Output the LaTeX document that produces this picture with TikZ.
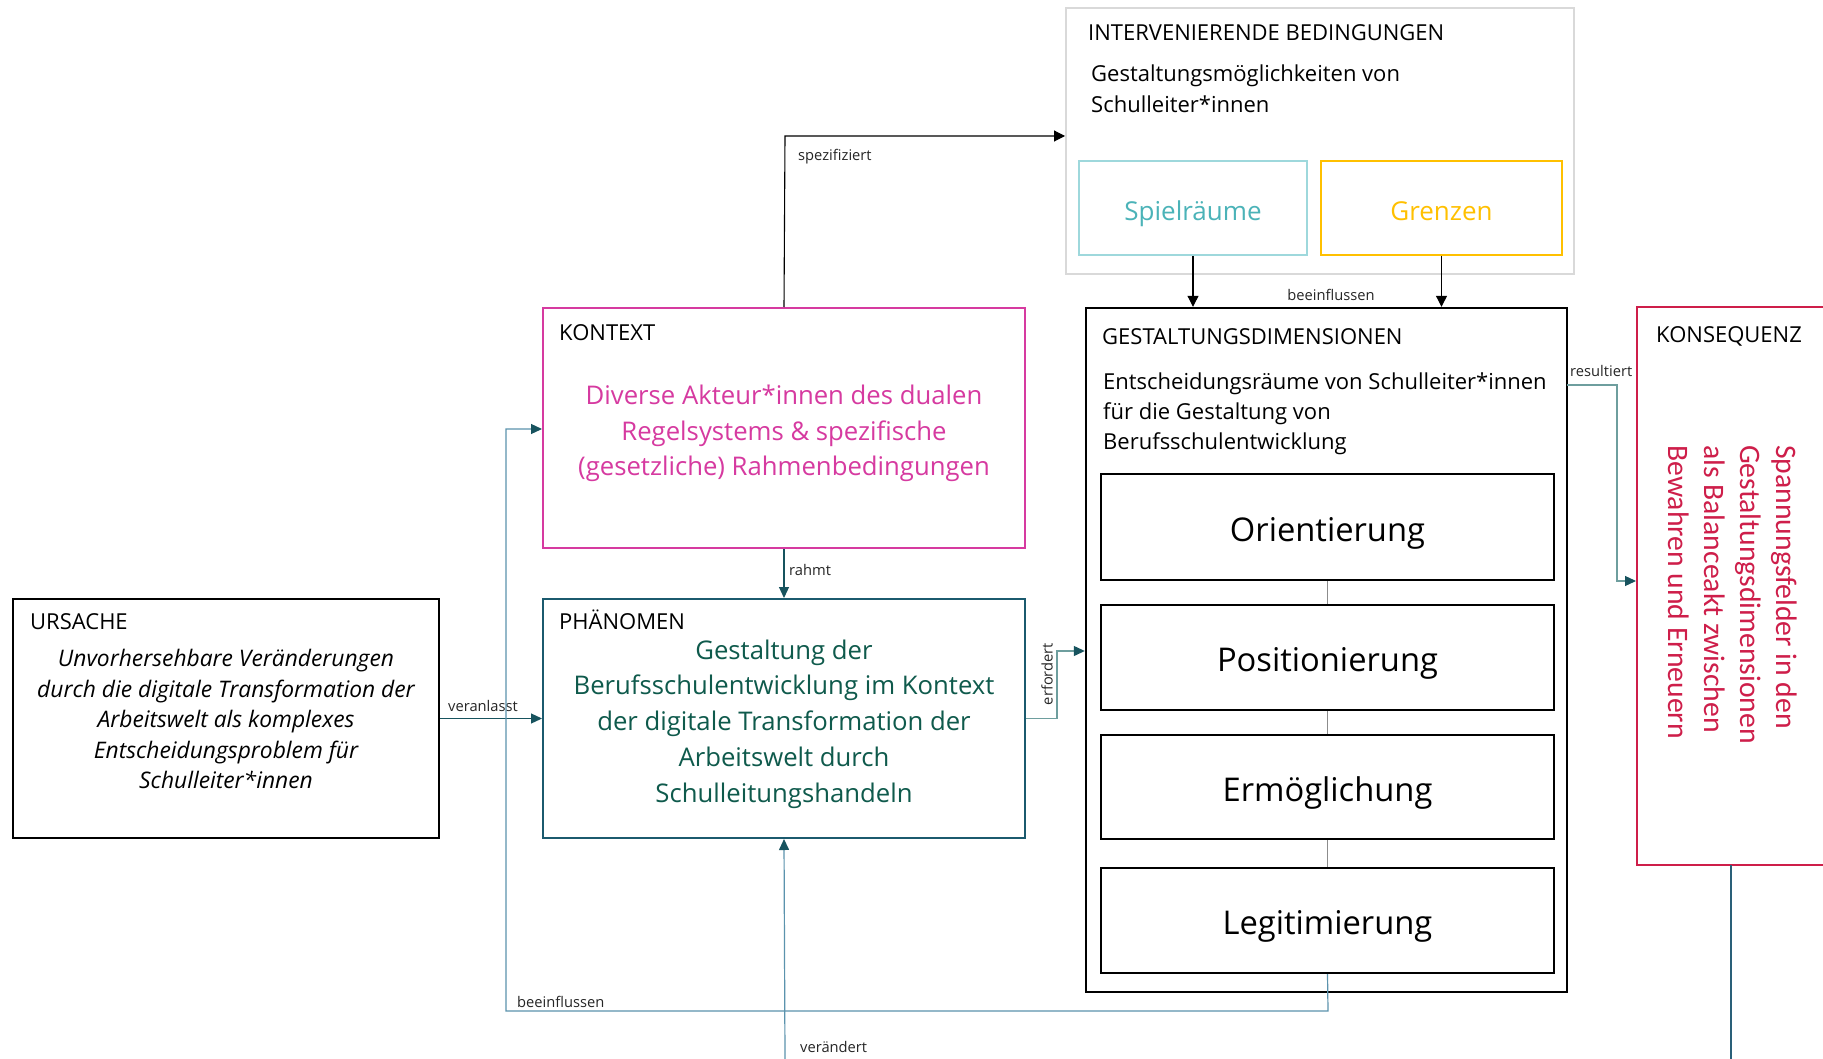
\documentclass[tikz,border=0pt]{standalone}
\usepackage{fontspec}
\setmainfont{Open Sans}
\newfontfamily\calfont{Carlito}
\usetikzlibrary{arrows.meta}

\definecolor{kontextmag}{HTML}{D63AA0}
\definecolor{phaenline}{HTML}{1B5A6E}
\definecolor{phaentext}{HTML}{0F5A4C}
\definecolor{spielline}{HTML}{9ED8DC}
\definecolor{spieltext}{HTML}{4BB3B8}
\definecolor{grenzgold}{HTML}{FFC000}
\definecolor{konsred}{HTML}{CE1E4A}
\definecolor{framegray}{HTML}{D9D9D9}
\definecolor{darkteal}{HTML}{17535E}
\definecolor{lightteal}{HTML}{5B93AD}
\definecolor{midteal}{HTML}{6E9E9E}
\definecolor{dimgray}{HTML}{8C8C8C}
\definecolor{konsline}{HTML}{2A6079}

\newcommand{\fs}[2]{\fontsize{#1}{#2}\selectfont}

\begin{document}
\begin{tikzpicture}[x=1pt,y=-1pt,
  box/.style={draw, line width=2pt, inner sep=0pt, fill=none},
  title/.style={anchor=base west, inner sep=0pt, font=\fs{22}{26}},
  lbl/.style={inner sep=0pt, font=\fs{14.7}{17}, text=black!85},
  blackarrow/.style={draw=black, line width=1.1pt, -{Triangle[length=11pt,width=11pt]}},
  tealarrow/.style={draw=darkteal, line width=1.2pt, -{Triangle[length=11pt,width=10pt,color=darkteal]}},
  lightarrow/.style={draw=lightteal, line width=1.2pt, -{Triangle[length=11pt,width=10pt,color=darkteal]}},
  midarrow/.style={draw=midteal, line width=1.2pt, -{Triangle[length=11pt,width=10pt,color=darkteal]}},
  subbox/.style={box, minimum height=94pt, font=\fs{26}{30}, text height=31pt, text depth=6pt},
  dimbox/.style={box, line width=2.2pt, minimum width=453pt, font=\fs{32.7}{36},
                 text height=32pt, text depth=4pt}
]
\fill[white] (0,0) rectangle (1823,1059);
\useasboundingbox (0,0) rectangle (1823,1059);

% ---------- Intervenierende Bedingungen ----------
\node[box, draw=framegray, minimum width=508pt, minimum height=266pt] (inter) at (1320,141) {};
\node[title] (intertitle) at (1088,41) {INTERVENIERENDE BEDINGUNGEN};
\node[anchor=west, inner sep=0pt, align=left, font=\fs{22}{31}] (intertext) at (1091,89)
  {Gestaltungsmöglichkeiten von\\Schulleiter*innen};
\node[subbox, draw=spielline, minimum width=228pt, text=spieltext] (spiel) at (1193,208) {Spielräume};
\node[subbox, draw=grenzgold, minimum width=241pt, text=grenzgold] (grenz) at (1441.5,208) {Grenzen};

% ---------- Gestaltungsdimensionen ----------
\node[box, line width=2.4pt, minimum width=481pt, minimum height=684pt] (gdim) at (1326.5,650) {};
\node[title] (gdimtitle) at (1102,344) {GESTALTUNGSDIMENSIONEN};
\node[anchor=west, inner sep=0pt, align=left, font=\fs{22}{30}] (gdimtext) at (1103,413.5)
  {Entscheidungsräume von Schulleiter*innen\\für die Gestaltung von\\Berufsschulentwicklung};
\node[dimbox, minimum height=106pt] (orient) at (1327.5,527) {Orientierung};
\node[dimbox, minimum height=105pt] (posit) at (1327.5,657.5) {Positionierung};
\node[dimbox, minimum height=104pt] (ermoeg) at (1327.5,787) {Ermöglichung};
\node[dimbox, minimum height=105pt] (legit) at (1327.5,920.5) {Legitimierung};
\draw[dimgray, line width=1.5pt] (orient.south) -- (posit.north);
\draw[dimgray, line width=1.5pt] (posit.south) -- (ermoeg.north);
\draw[dimgray, line width=1.5pt] (ermoeg.south) -- (legit.north);

% ---------- Konsequenz ----------
\node[box, draw=konsred, minimum width=193pt, minimum height=558pt] (kons) at (1733.5,586) {};
\node[title] (konstitle) at (1656,342) {KONSEQUENZ};
\node[rotate=-90, anchor=west, inner sep=0pt, align=left, text=konsred,
      font=\calfont\fs{29.7}{36}] (konstext) at (1733,445)
  {Spannungsfelder in den\\Gestaltungsdimensionen\\als Balanceakt zwischen\\Bewahren und Erneuern};

% ---------- Kontext ----------
\node[box, draw=kontextmag, minimum width=482pt, minimum height=240pt] (kontext) at (784,428) {};
\node[title] (kontexttitle) at (559,340) {KONTEXT};
\node[inner sep=0pt, align=center, text=kontextmag, font=\fs{25.7}{35.5}] (kontexttext) at (784,433.5)
  {Diverse Akteur*innen des dualen\\Regelsystems \& spezifische\\(gesetzliche) Rahmenbedingungen};

% ---------- Phänomen ----------
\node[box, draw=phaenline, minimum width=482pt, minimum height=239pt] (phaen) at (784,718.5) {};
\node[title] (phaentitle) at (559,629) {PHÄNOMEN};
\node[inner sep=0pt, align=center, text=phaentext, font=\fs{25.7}{35.7}] (phaentext) at (784,724)
  {Gestaltung der\\Berufsschulentwicklung im Kontext\\der digitale Transformation der\\Arbeitswelt durch\\Schulleitungshandeln};

% ---------- Ursache ----------
\node[box, line width=2.4pt, minimum width=426pt, minimum height=239pt] (ursache) at (226,718.5) {};
\node[title] (ursachetitle) at (30,629) {URSACHE};
\node[inner sep=0pt, align=center, font=\itshape\fs{22.8}{30.5}] (ursachetext) at (226,719)
  {Unvorhersehbare Veränderungen\\durch die digitale Transformation der\\Arbeitswelt als komplexes\\Entscheidungsproblem für\\Schulleiter*innen};

% ---------- turning points of the connectors ----------
\coordinate (spezturn) at (785,136);
\coordinate (erfturn) at (1057,651);
\coordinate (resstart) at (1567,385);
\coordinate (resturn) at (1617,385);
\coordinate (resend) at (1617,581);
\coordinate (loopR) at (1328,1011);
\coordinate (loopL) at (506,1011);
\coordinate (loopT) at (506,429);
\coordinate (vbot) at (785,1059);
\coordinate (kbot) at (1731,1059);
\coordinate (ktop) at (1731,865);

% ---------- connectors ----------
\draw[blackarrow] (kontext.north) -- (spezturn) -- (spezturn -| inter.west);
\node[lbl, anchor=west] (lspez) at (798,157) {spezifiziert};

\draw[blackarrow] (spiel.south) -- (spiel.south |- gdim.north);
\draw[blackarrow] (grenz.south) -- (grenz.south |- gdim.north);
\node[lbl] (lbeein1) at (1331,295) {beeinflussen};

\draw[tealarrow] (kontext.south) -- (phaen.north);
\node[lbl, anchor=west] (lrahmt) at (789,570) {rahmt};

\draw[tealarrow] (ursache.east) -- (phaen.west);
\node[lbl, anchor=west] (lveran) at (448,706) {veranlasst};

\draw[midarrow] (phaen.east) -| (erfturn) -- (erfturn -| gdim.west);
\node[lbl, rotate=90] (lerf) at (1047,674) {erfordert};

\draw[midarrow] (resstart) -- (resturn) -- (resend) -- (resend -| kons.west);
\node[lbl, anchor=west] (lres) at (1570,371) {resultiert};

\draw[lightarrow] (legit.south) -- (loopR) -- (loopL) -- (loopT) -- (loopT -| kontext.west);
\node[lbl, anchor=west] (lbeein2) at (517,1002) {beeinflussen};

\draw[lightarrow] (vbot) -- (phaen.south);
\node[lbl, anchor=west] (lveraend) at (800,1047) {verändert};

\draw[konsline, line width=1.2pt] (ktop) -- (kbot);
\end{tikzpicture}
\end{document}
